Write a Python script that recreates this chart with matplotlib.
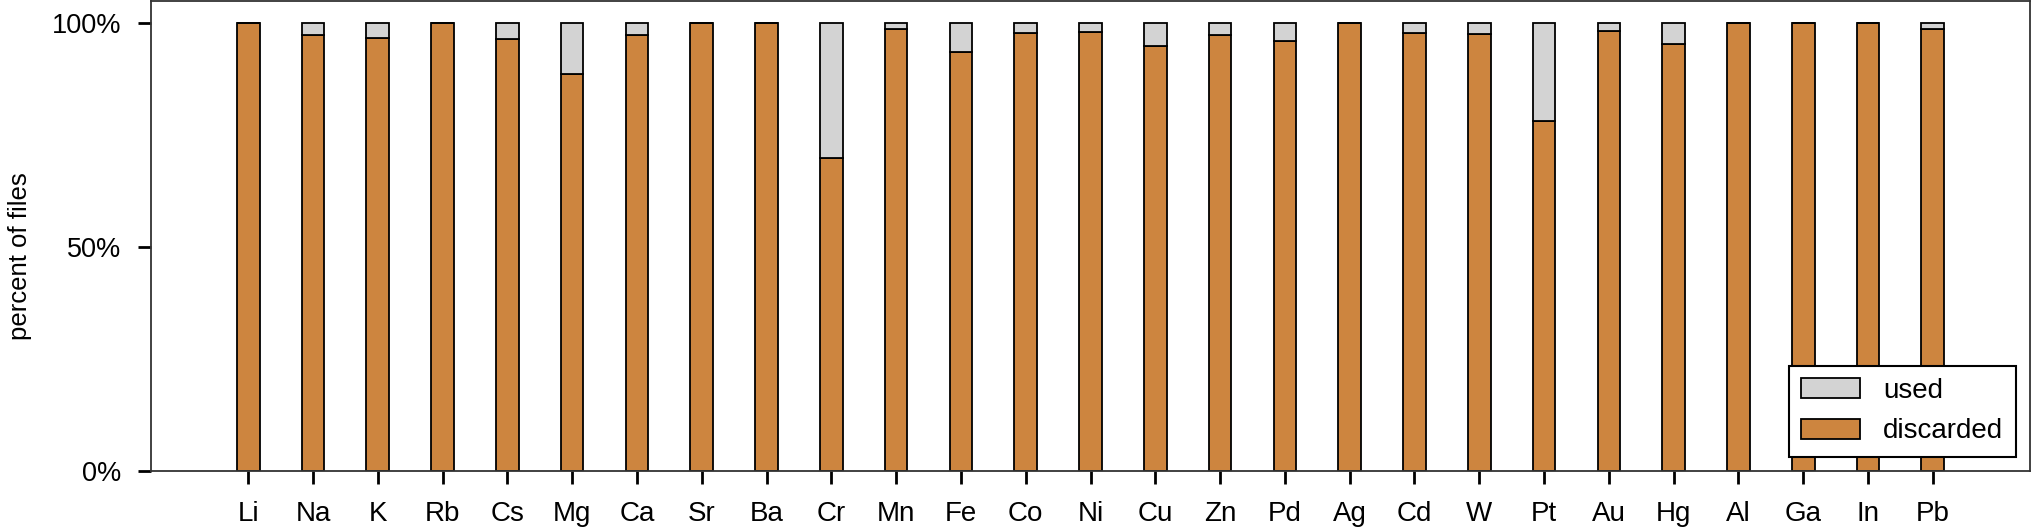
import matplotlib.pyplot as plt
import numpy as np

plt.rcParams['font.family'] = ['Liberation Sans', 'DejaVu Sans']

# elements and share of files (%) that were discarded; the rest were used
elements = ["Li", "Na", "K", "Rb", "Cs", "Mg", "Ca", "Sr", "Ba", "Cr", "Mn", "Fe", "Co", "Ni",
            "Cu", "Zn", "Pd", "Ag", "Cd", "W", "Pt", "Au", "Hg", "Al", "Ga", "In", "Pb"]
discarded = [100, 97.5, 96.7, 100, 96.6, 88.8, 97.5, 100, 100, 70.0, 98.7, 93.5, 97.9, 98.1,
             95.0, 97.5, 96.0, 100, 97.9, 97.7, 78.1, 98.4, 95.5, 100, 100, 100, 98.7]
used = [100 - d for d in discarded]

orange = "#CD853F"
grey = "#D3D3D3"

W, H = 2032, 532
fig = plt.figure(figsize=(W / 100, H / 100), dpi=100)
# plot region in pixels: x 151..2030, y 1..471
ax = fig.add_axes([151 / W, (H - 471) / H, (2030 - 151) / W, 470 / H])

x = np.arange(len(elements))
b1 = ax.bar(x, discarded, width=0.35, color=orange, edgecolor="black", linewidth=1.3,
            label="discarded")
b2 = ax.bar(x, used, bottom=discarded, width=0.35, color=grey, edgecolor="black",
            linewidth=1.3, label="used")

ax.set_xlim(-1.5, 27.5)
ax.set_ylim(0, 105)
ax.set_xticks(x)
ax.set_xticklabels(elements, fontsize=20)
ax.set_yticks([0, 50, 100])
ax.set_yticklabels(["0%", "50%", "100%"], fontsize=19.5)
ax.tick_params(length=9.5, width=2, pad=12, color="black")

for s in ax.spines.values():
    s.set_color("#333333")
    s.set_linewidth(1.3)

ax.set_ylabel("percent of files", fontsize=18.5)
ax.yaxis.set_label_coords(-0.0633, 0.457)

leg = ax.legend([b2, b1], ["used", "discarded"], loc="lower right",
                bbox_to_anchor=(0.9925, 0.0298), borderaxespad=0, fontsize=20,
                fancybox=False, framealpha=1, edgecolor="black",
                handlelength=2.1, handleheight=0.72, handletextpad=0.85,
                labelspacing=0.52, borderpad=0.45)
leg.get_frame().set_linewidth(1.5)

fig.savefig("out.png", dpi=100)
